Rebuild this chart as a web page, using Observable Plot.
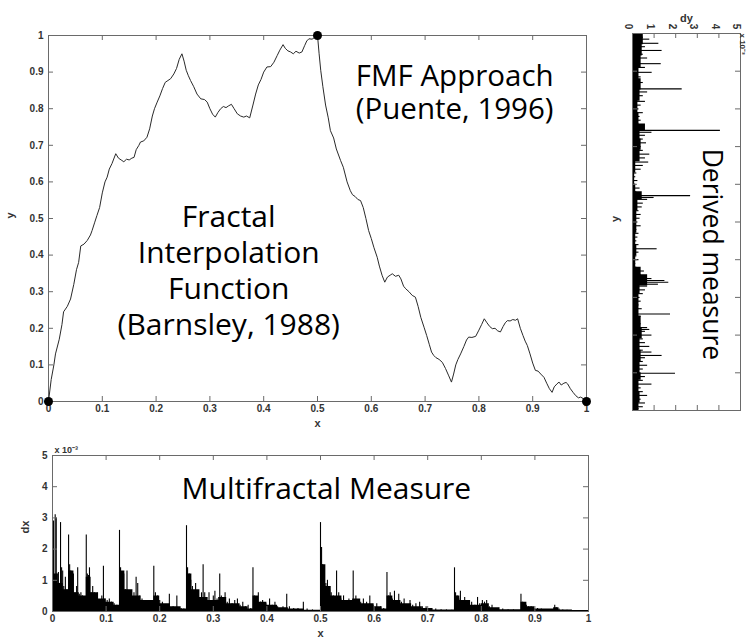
<!DOCTYPE html>
<html><head><meta charset="utf-8">
<script src="https://cdn.jsdelivr.net/npm/d3@7"></script>
<script src="https://cdn.jsdelivr.net/npm/@observablehq/plot@0.6"></script>
<style>
body{margin:0;background:#fff;}
#wrap{position:relative;width:749px;height:641px;overflow:hidden;background:#fff;}
#wrap svg{position:absolute;overflow:visible;}
</style></head><body><div id="wrap"></div>
<script>
// ---------- data ----------
const xTicks = [0,0.1,0.2,0.3,0.4,0.5,0.6,0.7,0.8,0.9,1];
const yTicks = [0,0.1,0.2,0.3,0.4,0.5,0.6,0.7,0.8,0.9,1];
const dxTicks = [0,1,2,3,4,5];
const dyTicks = [0,1,2,3,4,5];

// fractal interpolation function
const curveX = [0,0.005,0.01,0.013,0.02,0.025,0.028,0.035,0.041,0.047,0.052,0.056,0.06,0.066,0.072,0.078,0.081,0.086,0.09,0.095,0.1,0.105,0.109,0.113,0.118,0.125,0.13,0.135,0.14,0.145,0.15,0.155,0.159,0.163,0.168,0.171,0.177,0.183,0.188,0.193,0.197,0.202,0.207,0.212,0.217,0.222,0.227,0.233,0.238,0.243,0.248,0.252,0.256,0.26,0.264,0.27,0.276,0.283,0.29,0.295,0.3,0.305,0.31,0.315,0.32,0.325,0.33,0.335,0.34,0.345,0.351,0.357,0.363,0.368,0.374,0.38,0.385,0.39,0.395,0.4,0.406,0.413,0.419,0.425,0.43,0.436,0.44,0.445,0.45,0.455,0.46,0.466,0.471,0.476,0.48,0.484,0.49,0.495,0.5,0.503,0.506,0.51,0.515,0.52,0.524,0.53,0.535,0.543,0.548,0.555,0.561,0.565,0.57,0.575,0.58,0.585,0.59,0.595,0.6,0.605,0.611,0.615,0.62,0.625,0.63,0.635,0.639,0.645,0.651,0.655,0.66,0.664,0.67,0.676,0.682,0.687,0.692,0.698,0.703,0.708,0.712,0.716,0.72,0.726,0.732,0.738,0.744,0.749,0.753,0.757,0.761,0.766,0.772,0.777,0.781,0.787,0.794,0.8,0.805,0.81,0.815,0.82,0.825,0.83,0.835,0.84,0.845,0.849,0.853,0.858,0.863,0.868,0.872,0.877,0.882,0.886,0.89,0.895,0.9,0.905,0.91,0.915,0.921,0.926,0.931,0.936,0.94,0.945,0.949,0.953,0.958,0.962,0.965,0.97,0.975,0.98,0.985,0.989,0.994,1];
const curveY = [0,0.06,0.1,0.13,0.17,0.21,0.245,0.26,0.28,0.32,0.36,0.38,0.425,0.43,0.44,0.455,0.467,0.49,0.508,0.53,0.57,0.6,0.613,0.635,0.65,0.677,0.665,0.66,0.655,0.662,0.66,0.665,0.667,0.688,0.7,0.709,0.712,0.722,0.745,0.78,0.8,0.818,0.835,0.855,0.872,0.877,0.882,0.895,0.91,0.935,0.95,0.93,0.905,0.89,0.877,0.86,0.84,0.827,0.825,0.818,0.8,0.785,0.777,0.79,0.8,0.806,0.803,0.808,0.812,0.8,0.786,0.78,0.777,0.78,0.775,0.81,0.84,0.865,0.88,0.9,0.914,0.915,0.927,0.945,0.96,0.975,0.965,0.958,0.955,0.95,0.957,0.952,0.955,0.972,0.985,0.991,0.99,0.995,1,0.95,0.905,0.86,0.81,0.775,0.74,0.72,0.69,0.658,0.64,0.6,0.576,0.565,0.56,0.552,0.549,0.53,0.5,0.467,0.445,0.42,0.394,0.37,0.345,0.326,0.34,0.345,0.349,0.342,0.345,0.335,0.315,0.308,0.3,0.29,0.285,0.26,0.23,0.203,0.18,0.155,0.135,0.126,0.12,0.115,0.107,0.09,0.07,0.053,0.075,0.1,0.115,0.13,0.15,0.168,0.176,0.175,0.178,0.195,0.21,0.226,0.215,0.205,0.199,0.2,0.193,0.19,0.205,0.215,0.221,0.22,0.224,0.222,0.226,0.2,0.18,0.165,0.153,0.13,0.105,0.085,0.083,0.075,0.066,0.05,0.035,0.025,0.04,0.048,0.053,0.045,0.05,0.052,0.048,0.035,0.025,0.016,0.01,0.012,0.008,0];
const anchorX = [0,0.5,1];
const anchorY = [0,1,0];

// multifractal measure dx (x 10^-3): spikes and dense base
const dxSpikeX = [0.002,0.005,0.007,0.009,0.011,0.013,0.015,0.017,0.019,0.021,0.024,0.027,0.03,0.032,0.034,0.036,0.039,0.042,0.045,0.047,0.05,0.053,0.056,0.059,0.063,0.065,0.067,0.069,0.072,0.075,0.078,0.081,0.084,0.088,0.092,0.095,0.098,0.102,0.106,0.11,0.115,0.12,
0.125,0.127,0.13,0.133,0.136,0.139,0.142,0.145,0.148,0.152,0.156,0.159,0.163,0.167,0.171,0.175,0.18,0.189,0.192,0.196,0.2,0.205,0.21,0.218,0.225,0.232,0.24,0.245,
0.25,0.252,0.255,0.258,0.261,0.264,0.267,0.27,0.274,0.278,0.281,0.284,0.288,0.292,0.296,0.3,0.303,0.307,0.312,0.315,0.318,0.322,0.326,0.33,0.335,0.34,0.345,0.35,0.355,0.36,0.365,0.37,
0.374,0.377,0.38,0.384,0.388,0.392,0.398,0.405,0.41,0.415,0.42,0.43,0.437,0.442,0.45,0.458,0.468,0.475,0.485,0.495,
0.5,0.502,0.504,0.507,0.51,0.513,0.517,0.52,0.524,0.53,0.534,0.538,0.543,0.548,0.553,0.561,0.566,0.57,0.575,0.58,0.586,0.592,0.598,0.605,0.612,0.618,
0.624,0.627,0.63,0.634,0.638,0.642,0.646,0.651,0.656,0.661,0.667,0.672,0.678,0.685,0.69,0.697,0.705,0.715,0.725,0.735,0.745,
0.75,0.752,0.755,0.758,0.761,0.765,0.769,0.773,0.777,0.782,0.788,0.793,0.797,0.802,0.806,0.81,0.815,0.82,0.826,0.832,0.84,0.85,0.86,
0.874,0.877,0.88,0.884,0.888,0.893,0.898,0.905,0.912,0.92,0.93,0.937,0.94,0.945,0.952,0.96,0.97,0.98,0.99];
const dxSpikeV = [2.9,3.1,3.0,1.2,1.25,0.9,2.85,1.4,1.3,0.8,1.1,0.7,2.45,1.5,1.3,0.9,1.2,0.6,0.8,1.4,0.55,0.6,0.5,0.4,2.45,1.2,1.15,1.4,0.6,0.8,0.6,0.5,0.6,0.35,0.5,1.45,0.4,0.35,0.4,0.3,0.25,0.2,
2.6,1.4,1.0,1.2,0.7,1.3,0.6,0.5,0.4,0.6,1.1,0.9,0.5,0.4,0.35,0.3,0.25,1.45,0.6,0.5,0.35,0.3,0.2,0.55,0.15,0.5,0.1,0.08,
2.75,1.4,1.2,1.0,0.8,0.6,0.9,0.5,0.45,0.6,1.5,0.6,0.45,0.6,0.35,0.5,0.65,0.4,1.2,0.5,0.4,0.6,0.3,0.4,0.25,0.35,0.4,0.2,0.3,0.15,0.2,0.1,
1.4,0.5,0.4,0.6,0.3,0.35,0.25,0.4,0.2,0.3,0.15,0.15,0.55,0.15,0.1,0.1,0.3,0.08,0.05,0.03,
2.85,2.05,1.5,1.3,0.9,1.0,0.7,0.6,0.5,1.3,0.6,0.4,0.5,0.35,0.4,1.3,0.5,0.35,0.3,0.4,0.3,0.5,0.2,0.25,0.15,0.1,
1.25,0.5,0.6,0.4,0.65,0.3,0.55,0.3,0.4,0.2,0.35,0.2,0.25,0.3,0.15,0.15,0.1,0.08,0.06,0.05,0.04,
1.4,0.6,0.5,0.4,0.65,0.35,0.45,0.3,0.25,0.3,0.2,0.45,0.25,0.35,0.3,0.35,0.15,0.2,0.1,0.1,0.08,0.06,0.05,
0.55,0.3,0.25,0.2,0.15,0.15,0.1,0.1,0.08,0.06,0.05,0.2,0.12,0.08,0.05,0.04,0.03,0.03,0.02];
const dxBaseX = [0,0.01,0.02,0.03,0.04,0.05,0.063,0.072,0.085,0.1,0.115,0.125,0.135,0.15,0.165,0.189,0.2,0.22,0.24,0.25,0.26,0.275,0.29,0.31,0.325,0.35,0.365,0.374,0.385,0.4,0.42,0.44,0.47,0.5,0.51,0.52,0.54,0.56,0.575,0.6,0.615,0.624,0.635,0.65,0.67,0.69,0.71,0.75,0.76,0.78,0.8,0.815,0.835,0.874,0.885,0.9,0.935,0.945,0.97,1];
const dxBaseV = [1.2,0.9,0.7,1.3,0.6,0.5,1.1,0.6,0.4,0.3,0.2,1.3,0.7,0.5,0.35,0.5,0.25,0.15,0.08,1.2,0.7,0.45,0.35,0.45,0.25,0.15,0.08,0.5,0.3,0.2,0.12,0.08,0.04,1.5,0.8,0.5,0.35,0.4,0.25,0.15,0.08,0.5,0.35,0.25,0.15,0.1,0.05,0.5,0.35,0.2,0.25,0.12,0.06,0.3,0.15,0.08,0.12,0.05,0.03,0.03];

// derived measure dy (x 10^-3) along y
const dySpikeY = [0.99,0.985,0.974,0.965,0.955,0.945,0.935,0.92,0.91,0.897,0.885,0.87,0.862,0.853,0.845,0.835,0.82,0.81,0.8,0.79,0.78,0.77,0.76,0.75,0.743,0.738,0.73,0.72,0.71,0.7,0.69,0.68,0.67,0.659,0.65,0.64,0.63,0.62,0.61,0.6,0.59,0.58,0.57,0.565,0.56,0.55,0.54,0.53,0.52,0.51,0.5,0.49,0.48,0.47,0.46,0.45,0.44,0.429,0.42,0.41,0.4,0.39,0.38,0.37,0.36,0.35,0.345,0.34,0.335,0.33,0.32,0.31,0.3,0.29,0.28,0.27,0.256,0.25,0.24,0.23,0.22,0.215,0.21,0.2,0.19,0.18,0.17,0.16,0.155,0.146,0.14,0.13,0.12,0.11,0.099,0.09,0.08,0.07,0.06,0.05,0.04,0.03,0.02,0.01,0.005];
const dySpikeV = [0.5,0.8,1.22,0.6,1.37,0.5,0.7,1.33,0.6,0.91,0.4,0.5,0.3,2.3,0.7,0.5,0.6,0.4,0.3,0.5,0.35,0.4,0.3,0.5,4.07,0.9,0.6,0.5,0.65,0.4,0.5,0.8,0.6,0.75,0.5,0.4,0.2,0.15,0.25,0.15,0.35,0.2,2.69,1.0,0.7,0.5,0.45,0.3,0.4,0.35,0.25,0.4,0.2,0.3,0.25,0.2,0.3,1.14,0.3,0.2,0.3,0.15,0.2,0.55,0.4,0.9,1.5,1.68,1.2,0.7,0.6,0.5,0.35,0.4,0.3,0.45,1.76,0.4,0.3,0.4,0.7,0.8,0.6,0.9,0.5,0.6,0.8,0.5,0.9,1.37,0.6,0.5,0.7,0.5,1.99,0.6,0.5,0.9,0.4,0.5,0.7,0.4,0.6,0.5,0.3];
const dyBaseY = [0,0.02,0.05,0.08,0.1,0.13,0.16,0.19,0.22,0.25,0.28,0.31,0.33,0.36,0.38,0.41,0.44,0.47,0.5,0.53,0.56,0.58,0.6,0.63,0.66,0.69,0.72,0.74,0.76,0.79,0.82,0.85,0.88,0.91,0.94,0.97,1];
const dyBaseV = [0.3,0.35,0.3,0.4,0.35,0.4,0.35,0.45,0.4,0.3,0.3,0.35,0.7,0.4,0.15,0.2,0.15,0.2,0.2,0.25,0.45,0.15,0.1,0.15,0.35,0.4,0.35,0.6,0.3,0.25,0.35,0.4,0.3,0.4,0.45,0.5,0.5];

// ---------- tables ----------
const curve = curveX.map((x, i) => ({x, y: curveY[i]}));
const anchors = anchorX.map((x, i) => ({x, y: anchorY[i]}));
const dxSpikes = dxSpikeX.map((x, i) => ({x, v: dxSpikeV[i]}));
const dxBase = dxBaseX.map((x, i) => ({x, v: dxBaseV[i]}));
const dySpikes = dySpikeY.map((y, i) => ({y, v: dySpikeV[i]}));
const dyBase = dyBaseY.map((y, i) => ({y, v: dyBaseV[i]}));

const AX = "#6a6a6a";      // frame / tick colour
const LBL = "#333";        // tick label colour
const TICKFONT = "Liberation Sans, Arial, sans-serif";
const ANNFONT = "Open Sans, sans-serif";
const fmt = d => String(d);
const baseStyle = {fontFamily: TICKFONT, fontSize: "10px", fontWeight: "bold", color: LBL, background: "transparent", overflow: "visible"};

const wrap = document.getElementById("wrap");
function place(svg, left, top) { svg.style.left = left + "px"; svg.style.top = top + "px"; wrap.appendChild(svg); }

// ---------- main panel ----------
{
  const W = 600, H = 440, mL = 48, mR = 14, mT = 35, mB = 39;
  const iw = W - mL - mR, ih = H - mT - mB;
  const p = Plot.plot({
    width: W, height: H, marginLeft: mL, marginRight: mR, marginTop: mT, marginBottom: mB,
    x: {domain: [0, 1]}, y: {domain: [0, 1]},
    style: baseStyle,
    marks: [
      Plot.frame({stroke: AX}),
      Plot.tickX(xTicks, {x: d => d, insetTop: ih - 5, stroke: AX}),
      Plot.tickX(xTicks, {x: d => d, insetBottom: ih - 5, stroke: AX}),
      Plot.tickY(yTicks, {y: d => d, insetRight: iw - 5, stroke: AX}),
      Plot.tickY(yTicks, {y: d => d, insetLeft: iw - 5, stroke: AX}),
      Plot.axisX({ticks: xTicks, tickSize: 0, tickPadding: 3, tickFormat: fmt, label: null, color: LBL, fontWeight: "bold"}),
      Plot.axisY({ticks: yTicks, tickSize: 0, tickPadding: 5, tickFormat: fmt, label: null, color: LBL, fontWeight: "bold"}),
      Plot.text(["x"], {frameAnchor: "bottom", dy: 25, fontSize: 11, fill: LBL, fontWeight: "bold"}),
      Plot.text(["y"], {frameAnchor: "left", dx: -38, rotate: -90, fontSize: 11, fill: LBL, fontWeight: "bold"}),
      Plot.line(curve, {x: "x", y: "y", stroke: "#2a2a2a", strokeWidth: 1}),
      Plot.dot(anchors, {x: "x", y: "y", r: 4.5, fill: "black", stroke: "none"}),
      Plot.text(["Fractal\nInterpolation\nFunction\n(Barnsley, 1988)"], {x: 0.335, y: 0.36, fontFamily: ANNFONT, fontSize: 30, fontWeight: "normal", fill: "black", lineHeight: 1.2}),
      Plot.text(["FMF Approach\n(Puente, 1996)"], {x: 0.755, y: 0.845, fontFamily: ANNFONT, fontSize: 29.5, fontWeight: "normal", fill: "black", lineHeight: 1.12})
    ]
  });
  place(p, 0, 0);
}

// ---------- bottom panel (dx) ----------
{
  const W = 600, H = 201, mL = 52, mR = 12, mT = 15, mB = 30;
  const iw = W - mL - mR, ih = H - mT - mB;
  const p = Plot.plot({
    width: W, height: H, marginLeft: mL, marginRight: mR, marginTop: mT, marginBottom: mB,
    x: {domain: [0, 1]}, y: {domain: [0, 5]},
    style: baseStyle,
    marks: [
      Plot.areaY(dxBase, {x: "x", y: "v", curve: "step-after", fill: "black"}),
      Plot.ruleX(dxSpikes, {x: "x", y1: 0, y2: "v", stroke: "black", strokeWidth: 1.1}),
      Plot.frame({stroke: AX}),
      Plot.tickX(xTicks, {x: d => d, insetTop: ih - 5, stroke: AX}),
      Plot.tickX(xTicks, {x: d => d, insetBottom: ih - 5, stroke: AX}),
      Plot.tickY(dxTicks, {y: d => d, insetRight: iw - 5, stroke: AX}),
      Plot.tickY(dxTicks, {y: d => d, insetLeft: iw - 5, stroke: AX}),
      Plot.axisX({ticks: xTicks, tickSize: 0, tickPadding: 3, tickFormat: fmt, label: null, color: LBL, fontWeight: "bold"}),
      Plot.axisY({ticks: dxTicks, tickSize: 0, tickPadding: 5, tickFormat: fmt, label: null, color: LBL, fontWeight: "bold"}),
      Plot.text(["x"], {frameAnchor: "bottom", dy: 25, fontSize: 11, fill: LBL, fontWeight: "bold"}),
      Plot.text(["dx"], {frameAnchor: "left", dx: -27, rotate: -90, fontSize: 11, fill: LBL, fontWeight: "bold"}),
      Plot.text(["x 10⁻³"], {frameAnchor: "top-left", dx: 2, dy: -9, textAnchor: "start", fontSize: 9, fill: LBL, fontWeight: "bold"}),
      Plot.text(["Multifractal Measure"], {x: 0.511, y: 3.91, fontFamily: ANNFONT, fontSize: 30, fontWeight: "normal", fill: "black"})
    ]
  });
  place(p, 0, 440);
}

// ---------- right panel (dy) ----------
{
  const W = 149, H = 441, mL = 32, mR = 9, mT = 33, mB = 31;
  const iw = W - mL - mR, ih = H - mT - mB;
  const p = Plot.plot({
    width: W, height: H, marginLeft: mL, marginRight: mR, marginTop: mT, marginBottom: mB,
    x: {domain: [0, 5], axis: null}, y: {domain: [0, 1], axis: null},
    style: baseStyle,
    marks: [
      Plot.areaX(dyBase, {y: "y", x: "v", curve: "step-before", fill: "black"}),
      Plot.ruleY(dySpikes, {y: "y", x1: 0, x2: "v", stroke: "black", strokeWidth: 1.1}),
      Plot.frame({stroke: AX}),
      Plot.tickX(dyTicks, {x: d => d, insetTop: ih - 5, stroke: AX}),
      Plot.tickX(dyTicks, {x: d => d, insetBottom: ih - 5, stroke: AX}),
      Plot.tickY(yTicks, {y: d => d, insetRight: iw - 5, stroke: AX}),
      Plot.tickY(yTicks, {y: d => d, insetLeft: iw - 5, stroke: AX}),
      Plot.text(dyTicks, {x: d => d, frameAnchor: "top", dy: -7, rotate: 90, text: fmt, fontSize: 10, fill: LBL, fontWeight: "bold"}),
      Plot.text(["dy"], {frameAnchor: "top", dy: -19, fontSize: 11, fill: LBL, fontWeight: "bold"}),
      Plot.text(["x 10⁻³"], {frameAnchor: "top-right", dx: 5, dy: 0, rotate: 90, textAnchor: "start", fontSize: 8, fill: LBL, fontWeight: "bold"}),
      Plot.text(["y"], {frameAnchor: "left", dx: -17, rotate: -90, fontSize: 11, fill: LBL, fontWeight: "bold"}),
      Plot.text(["Derived measure"], {x: 3.65, y: 0.414, rotate: 90, fontFamily: ANNFONT, fontSize: 26.5, fontWeight: "normal", fill: "black"})
    ]
  });
  place(p, 600, 0);
}
</script></body></html>
